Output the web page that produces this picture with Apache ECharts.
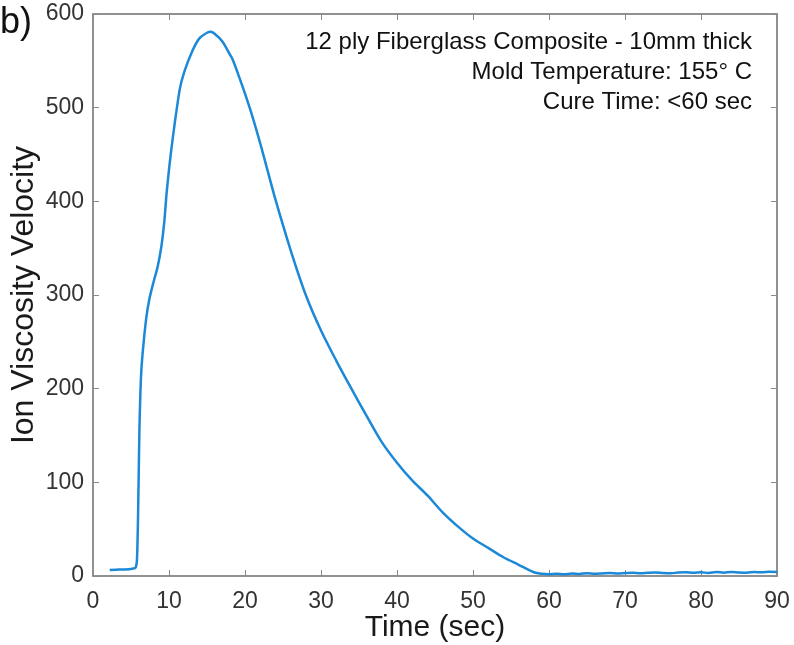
<!DOCTYPE html>
<html>
<head>
<meta charset="utf-8">
<script src="https://cdn.jsdelivr.net/npm/echarts@6/dist/echarts.min.js"></script>
<style>
html,body{margin:0;padding:0;background:#fff;}
#chart{width:794px;height:645px;}
</style>
</head>
<body>
<div id="chart"></div>
<script>
// time (sec) and ion viscosity velocity
var timeSec = [2.2,3,4,5,5.6,5.8,6.0,6.1,6.3,6.5,7,7.4,8,8.5,9,9.4,9.7,10.3,11.4,12,13.1,14,15,15.5,16,17,18,18.4,19,20,21,22,23,24,26,28,30,32,34,36,38,40,42,44,46,48,50,52,54,56,58,59,60,61,62,63,64,65,66,67,68,69,70,71,72,73,74,75,76,77,78,79,80,81,82,83,84,85,86,87,88,89,90];
var ionVisc = [6.5,6.8,7,7.5,9,20,100,153,210,235,275,295,315,330,352,380,410,455,519,538,561,574,580,581,579,571,557,551,538,515,490,462,432,402,348,300,262,230,200,171,143,121,102,86,68,53,40,30,20,12,4,2.4,2,2.3,1.8,2.6,2.2,3,2.4,2.8,3.3,2.6,3.1,3.6,2.9,3.4,3.8,3.2,2.9,3.7,4.1,3.4,3.9,3.3,4.2,3.6,4.4,3.8,3.5,4.3,3.9,4.5,4.2];
var noteLines = ['12 ply Fiberglass Composite - 10mm thick','Mold Temperature: 155\u00b0 C','Cure Time: <60 sec'];

var pts = [];
for(var i=0;i<timeSec.length;i++){
	pts.push([timeSec[i],ionVisc[i]]);
}

var font = 'Liberation Sans, Arial, sans-serif';
var axisGray = '#8a8a8a';

var notes = [];
for(var j=0;j<noteLines.length;j++){
	notes.push({
		type:'text', right:42, top:30+j*30,
		style:{text:noteLines[j], font:'24px '+font, fill:'#111', textAlign:'right'}
	});
}
notes.push({type:'text', left:0, top:5, style:{text:'b)', font:'36px '+font, fill:'#111'}});

function frameAxis(pos, max, step){
	return {
		type:'value', min:0, max:max, interval:step, position:pos,
		axisLine:{show:true, onZero:false, lineStyle:{color:axisGray, width:1.5}},
		axisTick:{show:true, inside:true, length:6, lineStyle:{color:axisGray}},
		axisLabel:{show:false}, splitLine:{show:false}
	};
}

var myChart = echarts.init(document.getElementById('chart'));
var option = {
	animation:false,
	backgroundColor:'#fff',
	grid:{left:93, right:17, top:14, bottom:69, containLabel:false, outerBoundsMode:'none',
		show:true, borderColor:axisGray, borderWidth:1.5},
	graphic:notes,
	xAxis:[{
		type:'value', min:0, max:90, interval:10,
		name:'Time (sec)', nameLocation:'middle', nameGap:37, nameMoveOverlap:false,
		nameTextStyle:{fontSize:30, color:'#1a1a1a', fontFamily:font},
		axisLine:{show:true, lineStyle:{color:axisGray, width:1.5}},
		axisTick:{show:true, inside:true, length:6, lineStyle:{color:axisGray}},
		axisLabel:{fontSize:23, color:'#333', fontFamily:font, margin:14},
		splitLine:{show:false}
	}, frameAxis('top',90,10)],
	yAxis:[{
		type:'value', min:0, max:600, interval:100,
		name:'Ion Viscosity Velocity', nameLocation:'middle', nameGap:53, nameMoveOverlap:false,
		nameTextStyle:{fontSize:32, color:'#1a1a1a', fontFamily:font},
		axisLine:{show:true, lineStyle:{color:axisGray, width:1.5}},
		axisTick:{show:true, inside:true, length:6, lineStyle:{color:axisGray}},
		axisLabel:{fontSize:23, color:'#333', fontFamily:font, margin:9},
		splitLine:{show:false}
	}, frameAxis('right',600,100)],
	series:[{
		type:'line', data:pts, showSymbol:false, smooth:0.3,
		lineStyle:{color:'#1b88d8', width:2.5}
	},{
		type:'line', xAxisIndex:1, yAxisIndex:1, data:[], silent:true
	}]
};
myChart.setOption(option);
</script>
</body>
</html>
